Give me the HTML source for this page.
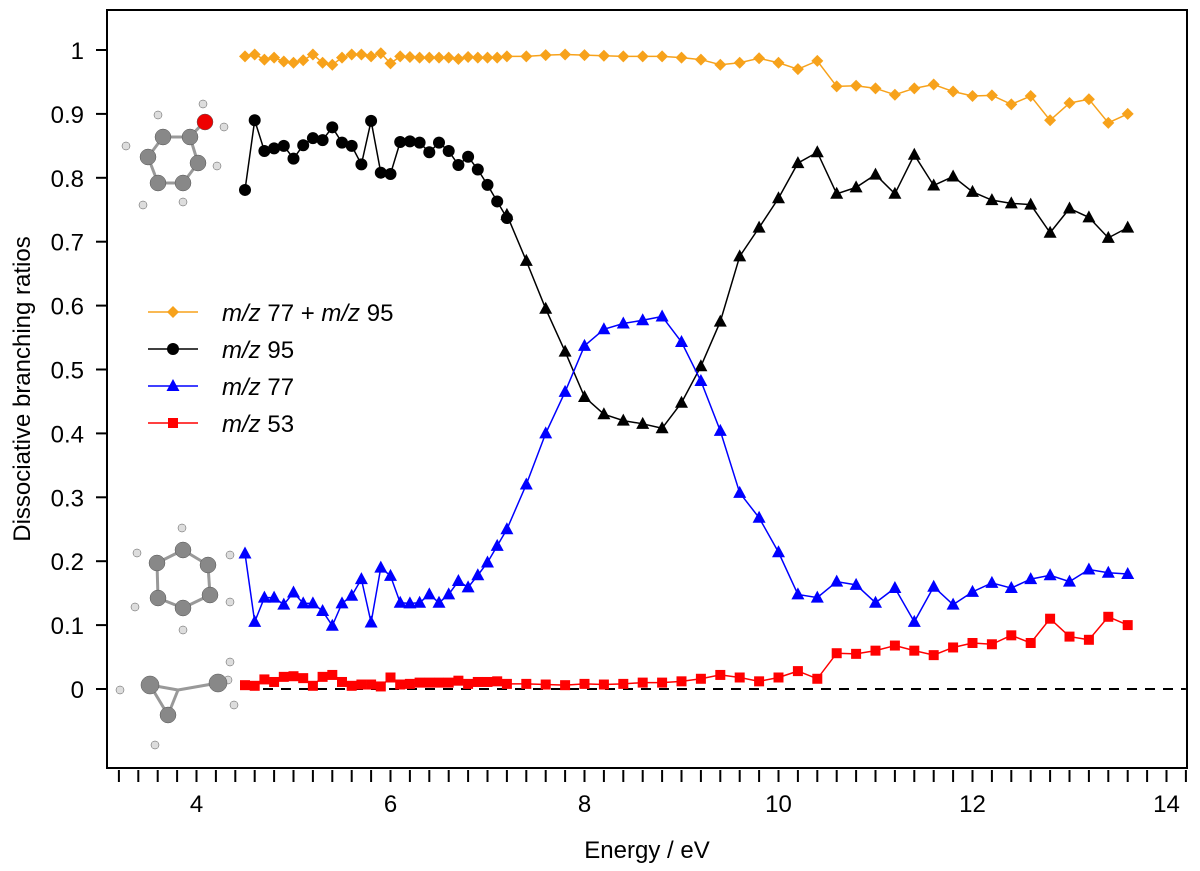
<!DOCTYPE html>
<html><head><meta charset="utf-8">
<style>
html,body{margin:0;padding:0;background:#fff;}
svg{display:block;font-family:"Liberation Sans",sans-serif;}
</style></head>
<body>
<svg id="chart" width="1200" height="871" viewBox="0 0 1200 871" xmlns="http://www.w3.org/2000/svg">
  <rect x="107" y="10" width="1080" height="758" fill="none" stroke="#000" stroke-width="2"/>
  <g id="axes"></g>
  <g id="zero-line"></g>
  <g id="series"></g>
  <g id="molecules"></g>
  <g id="legend"></g>
  <text x="647" y="858" font-size="24" text-anchor="middle">Energy / eV</text>
  <text transform="translate(30,389) rotate(-90)" font-size="24" text-anchor="middle">Dissociative branching ratios</text>
</svg>
<script>
const energiesA = [4.5,4.6,4.7,4.8,4.9,5.0,5.1,5.2,5.3,5.4,5.5,5.6,5.7,5.8,5.9,6.0,6.1,6.2,6.3,6.4,6.5,6.6,6.7,6.8,6.9,7.0,7.1,7.2];
const energiesB = [7.4,7.6,7.8,8.0,8.2,8.4,8.6,8.8,9.0,9.2,9.4,9.6,9.8,10.0,10.2,10.4,10.6,10.8,11.0,11.2,11.4,11.6,11.8,12.0,12.2,12.4,12.6,12.8,13.0,13.2,13.4,13.6];
const sumA = [0.99,0.993,0.985,0.988,0.982,0.98,0.984,0.993,0.98,0.977,0.988,0.993,0.993,0.99,0.995,0.979,0.99,0.989,0.988,0.988,0.988,0.988,0.986,0.989,0.988,0.988,0.988,0.99];
const sumB = [0.99,0.992,0.993,0.992,0.991,0.99,0.99,0.99,0.988,0.985,0.977,0.98,0.987,0.98,0.97,0.983,0.943,0.944,0.94,0.93,0.94,0.946,0.935,0.928,0.929,0.915,0.928,0.89,0.917,0.923,0.886,0.9];
const m95A = [0.781,0.89,0.842,0.846,0.85,0.83,0.851,0.862,0.859,0.879,0.855,0.85,0.821,0.889,0.808,0.806,0.856,0.857,0.855,0.84,0.855,0.842,0.82,0.833,0.813,0.789,0.763,0.737];
const m95B = [0.742,0.67,0.595,0.528,0.457,0.43,0.42,0.415,0.408,0.448,0.505,0.575,0.677,0.722,0.768,0.823,0.84,0.775,0.785,0.805,0.775,0.836,0.788,0.802,0.778,0.765,0.76,0.758,0.714,0.752,0.738,0.706,0.722];
const m77A = [0.212,0.105,0.143,0.143,0.132,0.151,0.134,0.134,0.122,0.099,0.134,0.146,0.172,0.104,0.19,0.177,0.135,0.134,0.135,0.148,0.135,0.148,0.169,0.159,0.178,0.198,0.224,0.25];
const m77B = [0.32,0.4,0.465,0.537,0.563,0.572,0.577,0.583,0.543,0.482,0.404,0.307,0.268,0.214,0.148,0.143,0.168,0.163,0.135,0.158,0.105,0.16,0.132,0.152,0.166,0.158,0.172,0.178,0.168,0.187,0.182,0.18];
const m53A = [0.006,0.005,0.015,0.011,0.019,0.02,0.017,0.005,0.019,0.022,0.011,0.005,0.007,0.007,0.004,0.018,0.007,0.008,0.01,0.01,0.01,0.01,0.013,0.008,0.011,0.011,0.012,0.008];
const m53B = [0.008,0.007,0.006,0.008,0.007,0.008,0.01,0.01,0.012,0.016,0.022,0.018,0.012,0.018,0.028,0.016,0.056,0.055,0.06,0.068,0.06,0.053,0.065,0.072,0.07,0.084,0.072,0.11,0.082,0.077,0.113,0.1];
const xTickLabels = [4,6,8,10,12,14];
const yTickLabels = [0,0.1,0.2,0.3,0.4,0.5,0.6,0.7,0.8,0.9,1];

const NS = "http://www.w3.org/2000/svg";
const X = e => 196.5 + (e - 4) * 97;
const Y = v => 689 - v * 639;
function mk(tag, attrs, parent){const el=document.createElementNS(NS,tag);for(const k in attrs)el.setAttribute(k,attrs[k]);parent.appendChild(el);return el;}

const axes = document.getElementById('axes');
for (let i = 0; i <= 55; i++) {
  const e = 3.2 + i * 0.2;
  if (e > 14.21) break;
  const t = mk('line',{x1:X(e),x2:X(e),y1:770,y2:782,stroke:'#000','stroke-width':2},axes);
  
  
}
xTickLabels.forEach(v=>{
  const t = mk('text',{x:X(v),y:812,'font-size':24,'text-anchor':'middle'},axes);
  t.textContent = v;
  
  
});
yTickLabels.forEach(v=>{
  const l = mk('line',{x1:96,x2:107,y1:Y(v),y2:Y(v),stroke:'#000','stroke-width':2},axes);
  
  
  const t = mk('text',{x:84,y:Y(v)+9,'font-size':24,'text-anchor':'end'},axes);
  t.textContent = v;
  
  
});

const zl = mk('line',{x1:X(4.5),x2:X(14.2),y1:Y(0),y2:Y(0),stroke:'#000','stroke-width':2,'stroke-dasharray':'10,8'},document.getElementById('zero-line'));



const sg = document.getElementById('series');
function marker(type, x, y, color, g){
  let m;
  if (type==='diamond') m = mk('polygon',{points:`${x},${y-6} ${x+6},${y} ${x},${y+6} ${x-6},${y}`,fill:color},g);
  else if (type==='circle') m = mk('circle',{cx:x,cy:y,r:6,fill:color},g);
  else if (type==='tri') m = mk('polygon',{points:`${x},${y-7} ${x+6.5},${y+5} ${x-6.5},${y+5}`,fill:color},g);
  else m = mk('rect',{x:x-5,y:y-5,width:10,height:10,fill:color},g);
  return m;
}
function series(name, xs, ys, color, type){
  const g = mk('g',{},sg);
  
  
  const pl = mk('polyline',{points:xs.map((e,i)=>X(e)+','+Y(ys[i])).join(' '),fill:'none',stroke:color,'stroke-width':1.5},g);
  
  
  xs.forEach((e,i)=>{
    const m = marker(type, X(e), Y(ys[i]), color, g);
    
    
  });
}
series('series-sum', energiesA.concat(energiesB), sumA.concat(sumB), '#f7a21b', 'diamond');
series('series-mz95-circles', energiesA, m95A, '#000', 'circle');
series('series-mz95-triangles', [7.2].concat(energiesB), m95B, '#000', 'tri');
series('series-mz77', energiesA.concat(energiesB), m77A.concat(m77B), '#0000ff', 'tri');
series('series-mz53', energiesA.concat(energiesB), m53A.concat(m53B), '#ff0000', 'square');

// legend
const lg = document.getElementById('legend');
const entries = [['#f7a21b','diamond','77 + ','95',true],['#000','circle','95'],['#0000ff','tri','77'],['#ff0000','square','53']];
entries.forEach((en,i)=>{
  const y = 312 + i*37;
  const g = mk('g',{},lg);
  
  
  mk('line',{x1:148,x2:198,y1:y,y2:y,stroke:en[0],'stroke-width':1.5},g);
  marker(en[1],173,y,en[0],g);
  const t = mk('text',{x:222,y:y+9,'font-size':24},g);
  if (en[4]) t.innerHTML = '<tspan font-style="italic">m/z</tspan>  77 + <tspan font-style="italic">m/z</tspan>  95';
  else t.innerHTML = '<tspan font-style="italic">m/z</tspan>  ' + en[2];
  t.setAttribute('xml:space','preserve');
});

// molecules
const mg = document.getElementById('molecules');
function atom(x,y,r,c){const a=mk('circle',{cx:x,cy:y,r:r,fill:c,stroke:'#555','stroke-width':0.5},mg);return a;}
function bond(a,b,c,d){mk('line',{x1:a,y1:b,x2:c,y2:d,stroke:'#999','stroke-width':3},mg);}
// phenol
const ph=[[163,137],[190,137],[198,163],[183,183],[158,183],[148,157]];
ph.forEach((p,i)=>{const q=ph[(i+1)%6];bond(p[0],p[1],q[0],q[1]);});
bond(190,137,205,121);
[[158,115],[126,146],[143,205],[183,202],[217,166]].forEach(h=>atom(h[0],h[1],4,'#ddd'));
atom(203,104,4,'#ddd');atom(224,127,4,'#ddd');
ph.forEach(p=>atom(p[0],p[1],8,'#888'));
atom(205,122,8,'#e00');
// benzene
const bz=[[157,563],[183,550],[208,565],[210,595],[183,608],[158,598]];
bz.forEach((p,i)=>{const q=bz[(i+1)%6];bond(p[0],p[1],q[0],q[1]);});
[[137,553],[182,528],[230,555],[230,602],[183,630],[135,607]].forEach(h=>atom(h[0],h[1],4,'#ddd'));
bz.forEach(p=>atom(p[0],p[1],8,'#888'));
// small molecule
bond(150,685,168,715);bond(150,685,178,690);bond(168,715,178,690);bond(178,690,218,683);
[[155,745],[230,662],[234,705],[228,680],[120,690]].forEach(h=>atom(h[0],h[1],4,'#ddd'));
atom(150,685,9,'#888');atom(168,715,8,'#888');atom(218,683,9,'#888');
</script>
</body></html>
